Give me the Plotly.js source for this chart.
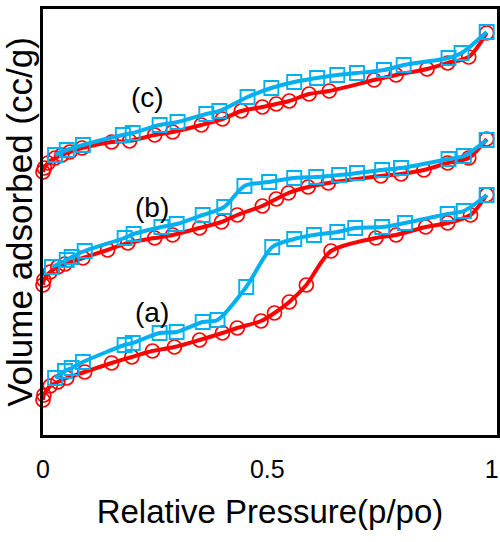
<!DOCTYPE html>
<html>
<head>
<meta charset="utf-8">
<script src="https://cdn.plot.ly/plotly-3.0.1.min.js"></script>
<style>html,body{margin:0;padding:0;background:#fff;}#chart{width:500px;height:542px;}</style>
</head>
<body>
<div id="chart"></div>
<script>
// Relative pressure values (p/po) and adsorbed volume (arbitrary, stacked offsets)
var aAdsX = [0.000, 0.002, 0.016, 0.033, 0.053, 0.093, 0.153, 0.198, 0.244, 0.293, 0.349, 0.400, 0.433, 0.486, 0.516, 0.549, 0.587, 0.642, 0.742, 0.787, 0.853, 0.902, 0.953, 0.989];
var aAdsY = [35, 40, 49, 53, 57, 63, 72, 78, 84, 88, 95, 102, 107, 114, 122, 133, 150, 184, 197, 200, 208, 212, 220, 240];
var aDesX = [0.027, 0.049, 0.064, 0.089, 0.182, 0.200, 0.260, 0.298, 0.356, 0.389, 0.453, 0.511, 0.560, 0.604, 0.656, 0.696, 0.756, 0.807, 0.902, 0.938, 0.989];
var aDesY = [57, 64, 67, 73, 90, 92, 102, 103, 113, 115, 148, 188, 196, 200, 203, 207, 208, 212, 221, 224, 240];

var bAdsX = [0.000, 0.002, 0.016, 0.033, 0.049, 0.089, 0.144, 0.189, 0.249, 0.289, 0.349, 0.398, 0.433, 0.489, 0.520, 0.547, 0.591, 0.636, 0.753, 0.798, 0.849, 0.902, 0.949, 0.989];
var bAdsY = [150, 155, 163, 168, 171, 177, 185, 192, 197, 200, 207, 213, 220, 229, 236, 242, 248, 252, 259, 261, 265, 272, 277, 296];
var bDesX = [0.020, 0.053, 0.064, 0.093, 0.182, 0.202, 0.264, 0.298, 0.356, 0.404, 0.449, 0.504, 0.560, 0.609, 0.660, 0.700, 0.756, 0.798, 0.904, 0.938, 0.989];
var bDesY = [168, 175, 178, 184, 197, 201, 208, 211, 220, 228, 249, 253, 257, 258, 260, 262, 265, 267, 276, 279, 295];

var cAdsX = [0.000, 0.003, 0.011, 0.027, 0.042, 0.060, 0.087, 0.153, 0.193, 0.249, 0.289, 0.353, 0.400, 0.442, 0.489, 0.520, 0.549, 0.593, 0.638, 0.738, 0.787, 0.856, 0.902, 0.949, 0.989];
var cAdsY = [263, 267, 272, 277, 280, 283, 287, 293, 294, 300, 303, 310, 316, 324, 328, 331, 334, 341, 344, 355, 360, 366, 372, 378, 402];
var cDesX = [0.027, 0.053, 0.089, 0.178, 0.200, 0.260, 0.300, 0.364, 0.393, 0.456, 0.509, 0.560, 0.611, 0.656, 0.700, 0.760, 0.804, 0.904, 0.933, 0.989];
var cDesY = [280, 285, 290, 300, 302, 310, 313, 321, 324, 338, 347, 353, 357, 360, 362, 365, 370, 377, 382, 403];

var sampleLabels = ['(a)', '(b)', '(c)'];
var tickVals = [0, 0.5, 1];
var tickText = ['0', '0.5', '1'];

var RED = '#FF0000', BLUE = '#00B0F0';
function ads(x, y) {
  return {x: x, y: y, type: 'scatter', mode: 'lines+markers',
    line: {color: RED, width: 4, shape: 'spline', smoothing: 0.8},
    marker: {symbol: 'circle-open', size: 14, color: RED, line: {width: 1.7, color: RED}},
    showlegend: false, cliponaxis: false};
}
function des(x, y) {
  return {x: x, y: y, type: 'scatter', mode: 'lines+markers',
    line: {color: BLUE, width: 4, shape: 'spline', smoothing: 0.8},
    marker: {symbol: 'square-open', size: 14, color: BLUE, line: {width: 1.9, color: BLUE}},
    showlegend: false, cliponaxis: false};
}
var data = [ads(aAdsX, aAdsY), des(aDesX, aDesY), ads(bAdsX, bAdsY), des(bDesX, bDesY), ads(cAdsX, cAdsY), des(cDesX, cDesY)];

var FONT = 'Arial, "Liberation Sans", sans-serif';
var layout = {
  width: 500, height: 542,
  margin: {l: 43, r: 3, t: 9, b: 107},
  paper_bgcolor: '#fff', plot_bgcolor: '#fff',
  font: {family: FONT, color: '#000'},
  xaxis: {range: [0, 1.012], tickvals: tickVals, ticktext: tickText, ticks: '',
    showgrid: false, zeroline: false, showline: true, mirror: true, linecolor: '#000', linewidth: 3,
    tickfont: {size: 25, family: FONT}, ticklabelstandoff: 10,
    title: {text: 'Relative Pressure(p/po)', font: {size: 33, family: FONT}, standoff: 18}},
  yaxis: {range: [0, 426], showticklabels: false, ticks: '',
    showgrid: false, zeroline: false, showline: true, mirror: true, linecolor: '#000', linewidth: 3,
    title: {text: 'Volume adsorbed (cc/g)', font: {size: 35, family: FONT}, standoff: 4}},
  annotations: [
    {x: 0.244, y: 123, text: sampleLabels[0], showarrow: false, font: {size: 28, family: FONT}},
    {x: 0.244, y: 228, text: sampleLabels[1], showarrow: false, font: {size: 28, family: FONT}},
    {x: 0.233, y: 338, text: sampleLabels[2], showarrow: false, font: {size: 28, family: FONT}}
  ]
};
Plotly.newPlot('chart', data, layout, {displayModeBar: false, staticPlot: true});
</script>
</body>
</html>
